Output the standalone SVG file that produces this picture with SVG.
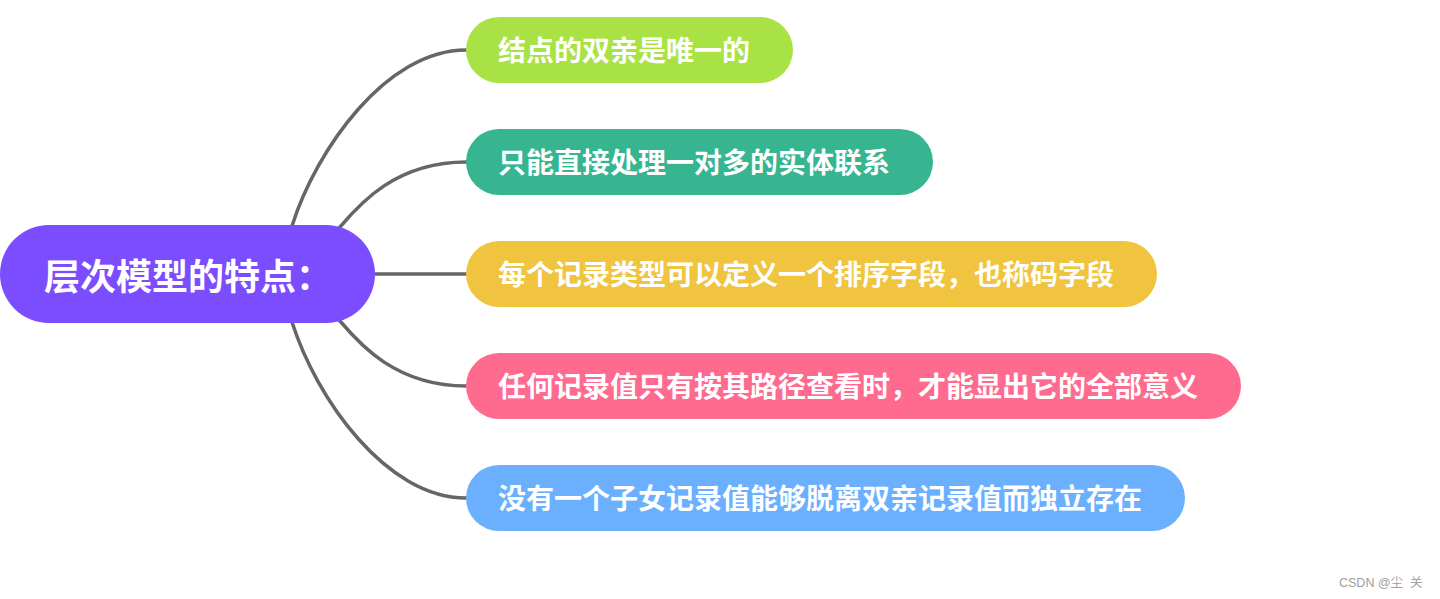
<svg xmlns="http://www.w3.org/2000/svg" width="1440" height="599" viewBox="0 0 1440 599">
<style>
.conn{fill:none;stroke:#666666;stroke-width:3.5;stroke-linecap:round}
.lbl{font-family:"Noto Sans CJK SC","Noto Sans",sans-serif;font-weight:700;fill:#ffffff;font-size:28px}
.root{font-size:36px}
.wm{font-family:"Liberation Sans","Noto Sans CJK SC",sans-serif;font-size:12.5px;fill:#a0a0a0;white-space:pre}
</style>
<rect width="1440" height="599" fill="#ffffff"/>
<g id="connectors">
<path class="conn" d="M 289 235 L 292 226 C 316 150 386 50 466 50"/>
<path class="conn" d="M 333 235 L 340 227 C 359.5 204 396 162 466 162"/>
<path class="conn" d="M 370 274 L 466 274"/>
<path class="conn" d="M 333 313 L 340 321 C 359.5 344 396 386 466 386"/>
<path class="conn" d="M 289 313 L 292 322 C 316 398 386 498 466 498"/>
</g>
<g id="root">
<rect x="0" y="225" width="375" height="98" rx="49" fill="#7b4dff"/>
<text class="lbl root" x="44" y="290">层次模型的特点：</text>
</g>
<g id="n1">
<rect x="466" y="17" width="327" height="66" rx="33" fill="#a9e244"/>
<text class="lbl" x="498" y="60.5">结点的双亲是唯一的</text>
</g>
<g id="n2">
<rect x="466" y="129" width="467" height="66" rx="33" fill="#36b590"/>
<text class="lbl" x="498" y="172.5">只能直接处理一对多的实体联系</text>
</g>
<g id="n3">
<rect x="466" y="241" width="691" height="66" rx="33" fill="#f0c43e"/>
<text class="lbl" x="498" y="284.5">每个记录类型可以定义一个排序字段，也称码字段</text>
</g>
<g id="n4">
<rect x="466" y="353" width="775" height="66" rx="33" fill="#ff6a8f"/>
<text class="lbl" x="498" y="396.5">任何记录值只有按其路径查看时，才能显出它的全部意义</text>
</g>
<g id="n5">
<rect x="466" y="465" width="719" height="66" rx="33" fill="#6ab0ff"/>
<text class="lbl" x="498" y="508.5">没有一个子女记录值能够脱离双亲记录值而独立存在</text>
</g>
<text class="wm" x="1339" y="587" xml:space="preserve">CSDN @尘  关</text>
</svg>
